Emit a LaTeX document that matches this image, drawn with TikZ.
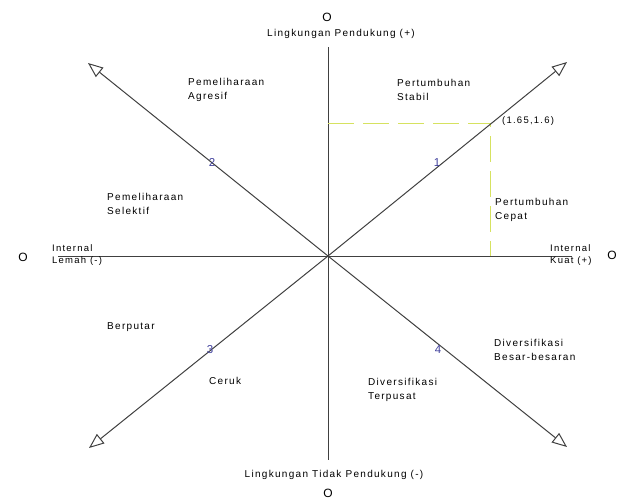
\documentclass[tikz,border=0pt]{standalone}
\usepackage{fontspec}
\setmainfont{Liberation Sans}
\newfontfamily\lblfont[LetterSpace=13]{Liberation Sans}
\usepackage{tikz}
\usetikzlibrary{arrows.meta}

\definecolor{guideyel}{RGB}{214,226,96}
\definecolor{numblue}{RGB}{64,64,156}

\begin{document}
\begin{tikzpicture}[x=1pt, y=-1pt,
  lbl/.style={anchor=west, inner sep=0pt, align=left,
    font=\lblfont\fontsize{10}{14}\selectfont},
  lbltight/.style={lbl, font=\lblfont\fontsize{9.5}{11.5}\selectfont},
  axlbl/.style={inner sep=0pt, font=\lblfont\fontsize{10}{11}\selectfont},
  pole/.style={inner sep=0pt, font=\fontsize{12}{12}\selectfont},
  num/.style={inner sep=0pt, text=numblue, font=\fontsize{11.5}{11.5}\selectfont},
  axis/.style={line width=1pt, draw=black!75},
  diag/.style={axis, -{Triangle[open, length=15pt, width=12pt]}},
  guide/.style={line width=1pt, draw=guideyel, dash pattern=on 26pt off 9pt}
]
  \useasboundingbox (0,0) rectangle (619,499);

  % axes
  \coordinate (c) at (328,256);
  \coordinate (top) at (328,47);
  \coordinate (bot) at (328,460);
  \coordinate (lft) at (58,256);
  \coordinate (rgt) at (572,256);
  \draw[axis] (top) -- (bot);
  \draw[axis] (lft) -- (rgt);

  % position point and guides
  \coordinate (pt) at (490,123);
  \draw[guide] (c |- pt) -- (pt) -- (pt |- c);
  \node[lbl, font=\lblfont\fontsize{9.5}{10}\selectfont] (ptlbl) at (502,121) {(1.65,1.6)};

  % quadrant diagonals
  \coordinate (ne) at (567,62);
  \coordinate (nw) at (88,63);
  \coordinate (sw) at (89,448);
  \coordinate (se) at (567,447);
  \draw[diag] (c) -- (ne);
  \draw[diag] (c) -- (nw);
  \draw[diag] (c) -- (sw);
  \draw[diag] (c) -- (se);

  \node[num] (q1) at (437,163) {1};
  \node[num] (q2) at (212,162) {2};
  \node[num] (q3) at (210,350) {3};
  \node[num] (q4) at (438,350) {4};

  % poles
  \node[pole] (onorth) at (327,17) {O};
  \node[pole] (osouth) at (328,493) {O};
  \node[pole] (owest) at (23,257) {O};
  \node[pole] (oeast) at (612,255) {O};
  \node[axlbl] (envpos) at (341,34) {Lingkungan Pendukung (+)};
  \node[axlbl] (envneg) at (334,475) {Lingkungan Tidak Pendukung (-)};
  \node[lbltight] (intneg) at (52,255) {Internal\\Lemah (-)};
  \node[lbltight] (intpos) at (550,255) {Internal\\Kuat (+)};

  % strategies
  \node[lbl] (agresif) at (188,90) {Pemeliharaan\\Agresif};
  \node[lbl] (stabil) at (397,90) {Pertumbuhan\\Stabil};
  \node[lbl] (selektif) at (107,204) {Pemeliharaan\\Selektif};
  \node[lbl] (cepat) at (495,210) {Pertumbuhan\\Cepat};
  \node[lbl] (berputar) at (107,327) {Berputar};
  \node[lbl] (ceruk) at (209,381) {Ceruk};
  \node[lbl] (besar) at (494,350) {Diversifikasi\\Besar-besaran};
  \node[lbl] (terpusat) at (368,390) {Diversifikasi\\Terpusat};
\end{tikzpicture}
\end{document}
